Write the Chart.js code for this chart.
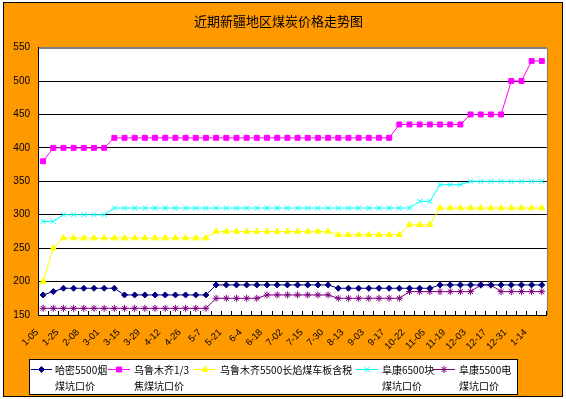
<!DOCTYPE html>
<html><head><meta charset="utf-8">
<script src="https://cdn.jsdelivr.net/npm/chart.js@4.4.1/dist/chart.umd.min.js"></script>
<style>html,body{margin:0;padding:0;background:#fff}#wrap{width:566px;height:399px;position:relative}</style>
</head><body><div id="wrap"><canvas id="c" width="566" height="399"></canvas></div>
<script>
// ---- data ----
const chartTitle = '近期新疆地区煤炭价格走势图';
const categories = ['1-05','','1-25','','2-08','','3-01','','3-15','','3-29','','4-12','','4-26','','5-7','','5-21','','6-4','','6-18','','7-02','','7-15','','7-30','','8-13','','9-03','','9-17','','10-22','','11-05','','11-19','','12-03','','12-17','','12-31','','1-14',''];
const seriesNames = ['哈密5500烟煤坑口价','乌鲁木齐1/3焦煤坑口价','乌鲁木齐5500长焰煤车板含税','阜康6500块煤坑口价','阜康5500电煤坑口价'];
const legendLines = [['哈密5500烟','煤坑口价'],['乌鲁木齐1/3','焦煤坑口价'],['乌鲁木齐5500长焰煤车板含税'],['阜康6500块','煤坑口价'],['阜康5500电','煤坑口价']];
const hami5500 = [180,185,190,190,190,190,190,190,180,180,180,180,180,180,180,180,180,195,195,195,195,195,195,195,195,195,195,195,195,190,190,190,190,190,190,190,190,190,190,195,195,195,195,195,195,195,195,195,195,195];
const urumqiCoking = [380,400,400,400,400,400,400,415,415,415,415,415,415,415,415,415,415,415,415,415,415,415,415,415,415,415,415,415,415,415,415,415,415,415,415,435,435,435,435,435,435,435,450,450,450,450,500,500,530,530];
const urumqiLongFlame = [200,250,265,265,265,265,265,265,265,265,265,265,265,265,265,265,265,275,275,275,275,275,275,275,275,275,275,275,275,270,270,270,270,270,270,270,285,285,285,310,310,310,310,310,310,310,310,310,310,310];
const fukang6500 = [290,290,300,300,300,300,300,310,310,310,310,310,310,310,310,310,310,310,310,310,310,310,310,310,310,310,310,310,310,310,310,310,310,310,310,310,310,320,320,345,345,345,350,350,350,350,350,350,350,350];
const fukang5500 = [160,160,160,160,160,160,160,160,160,160,160,160,160,160,160,160,160,175,175,175,175,175,180,180,180,180,180,180,180,175,175,175,175,175,175,175,185,185,185,185,185,185,185,195,195,185,185,185,185,185];
const yMin = 150, yMax = 550, yStep = 50;

// ---- styles ----
const colors = ['#000080','#FF00FF','#FFFF00','#00FFFF','#800080'];
const styles = ['rectRot','rect','triangle','crossRot','star'];
const radii = [3,3.5,3.5,3.5,3.5];
const seriesData = [hami5500, urumqiCoking, urumqiLongFlame, fukang6500, fukang5500];

const datasets = seriesData.map((d,i)=>({
  label: seriesNames[i], data: d,
  borderColor: colors[i], backgroundColor: colors[i],
  pointBackgroundColor: colors[i], pointBorderColor: colors[i],
  borderWidth: 1, pointStyle: styles[i], pointRadius: radii[i], pointBorderWidth: 1,
  tension: 0, fill: false
}));

const framePlugin = {
  id: 'frame',
  beforeDraw(chart){
    const ctx = chart.ctx, ca = chart.chartArea;
    ctx.save();
    ctx.fillStyle = '#fff'; ctx.fillRect(0,0,chart.width,chart.height);
    ctx.fillStyle = '#FF9900'; ctx.fillRect(3,2,560,395);
    ctx.strokeStyle = '#000'; ctx.lineWidth = 1; ctx.strokeRect(3.5,2.5,559,394);
    ctx.fillStyle = '#fff'; ctx.fillRect(ca.left, ca.top, ca.right-ca.left, ca.bottom-ca.top);
    ctx.restore();
  },
  afterDraw(chart){
    const ctx = chart.ctx, ca = chart.chartArea;
    ctx.save();
    ctx.strokeStyle = '#808080'; ctx.lineWidth = 1;
    ctx.beginPath();
    ctx.moveTo(Math.round(ca.left)+0.5, Math.round(ca.top)+0.5);
    ctx.lineTo(Math.round(ca.right)+0.5, Math.round(ca.top)+0.5);
    ctx.lineTo(Math.round(ca.right)+0.5, Math.round(ca.bottom));
    ctx.stroke();
    // legend
    const bx = 29.5, by = 359.5, bw = 488, bh = 35;
    ctx.fillStyle = '#fff'; ctx.fillRect(bx,by,bw,bh);
    ctx.strokeStyle = '#000'; ctx.strokeRect(bx,by,bw,bh);
    const pos = [[31,52,55],[108,130,134],[194,216,220],[356,378,382],[433,455,459]];
    ctx.font = "10px 'Noto Sans CJK SC', sans-serif";
    ctx.textBaseline = 'middle'; ctx.textAlign = 'left';
    chart.data.datasets.forEach((ds,i)=>{
      const [x0,x1,tx] = pos[i]; const y = 369.5;
      ctx.strokeStyle = ds.borderColor; ctx.lineWidth = 1;
      ctx.beginPath(); ctx.moveTo(x0,y); ctx.lineTo(x1,y); ctx.stroke();
      ctx.fillStyle = ds.pointBackgroundColor;
      Chart.helpers.drawPoint(ctx, {pointStyle: ds.pointStyle, radius: ds.pointRadius, rotation: 0, borderWidth: 1}, (x0+x1)/2, y);
      ctx.fillStyle = '#000';
      legendLines[i].forEach((t,k)=> ctx.fillText(t, tx, 370 + k*16));
    });
    ctx.restore();
  }
};

new Chart(document.getElementById('c'), {
  type: 'line',
  data: { labels: categories, datasets },
  plugins: [framePlugin],
  options: {
    responsive: false, animation: false, devicePixelRatio: 1,
    layout: { padding: { left: 4, right: 13, top: 0, bottom: 37 } },
    plugins: {
      legend: { display: false },
      tooltip: { enabled: false },
      title: { display: true, text: chartTitle, color: '#000',
        font: { size: 13, family: "'Noto Sans CJK SC', sans-serif", weight: 'normal', lineHeight: 1.2 },
        padding: { top: 13, bottom: 19 } }
    },
    scales: {
      x: {
        offset: true,
        grid: { display: true, drawOnChartArea: false, drawTicks: true, tickLength: -4, color: '#000', offset: true },
        border: { display: true, color: '#000', width: 1 },
        ticks: { autoSkip: false, maxRotation: 45, minRotation: 45, color: '#000', padding: 16, labelOffset: -6,
          font: { size: 9.5, family: "'Liberation Sans', Arial, sans-serif" } },
        afterFit(s){ s.height = 47; }
      },
      y: {
        min: yMin, max: yMax,
        ticks: { stepSize: yStep, color: '#000', padding: 8, font: { size: 10, family: "'Liberation Sans', Arial, sans-serif" } },
        grid: { color: c => (c.tick && c.tick.value === yMax) ? '#808080' : '#000', drawTicks: false, lineWidth: 1 },
        border: { display: true, color: '#000', width: 1 },
        afterFit(s){ s.width = 34; }
      }
    }
  }
});
</script>
</body></html>
